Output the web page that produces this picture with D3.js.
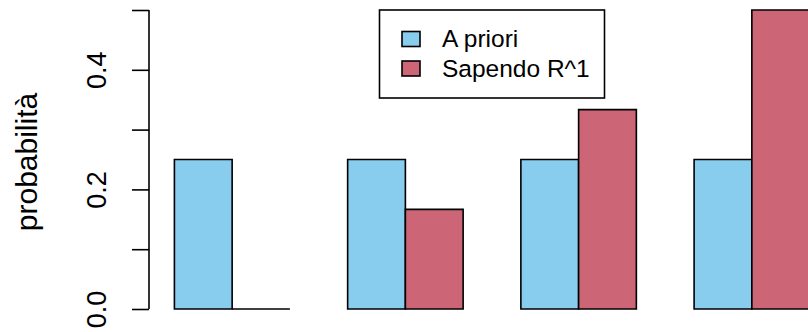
<!DOCTYPE html>
<html><head><meta charset="utf-8">
<script src="https://cdn.jsdelivr.net/npm/d3@7"></script>
<style>html,body{margin:0;padding:0;background:#fff;overflow:hidden}</style>
</head><body>
<svg id="chart" width="808" height="332"></svg>
<script>
const categories = ["1", "2", "3", "4"];
const seriesNames = ["A priori", "Sapendo R^1"];
const aPriori = [0.25, 0.25, 0.25, 0.25];
const sapendo = [0, 1/6, 1/3, 0.5];
const yTicks = [0, 0.1, 0.2, 0.3, 0.4, 0.5];
const yTickLabels = ["0.0", "", "0.2", "", "0.4", ""];
const colors = ["#88CCEE", "#CC6677"];
const yLabel = "probabilità";

const svg = d3.select("#chart");
const font = "Liberation Sans, Arial, Helvetica, sans-serif";

// barplot layout like R: each bar width 1, space before group 1
const series = [aPriori, sapendo];
const nGroups = categories.length, nSeries = series.length;
const xMin = 1, xMax = 1 + nGroups * (nSeries + 1) - 1;
const ext = (xMax - xMin) * 0.04;
const x = d3.scaleLinear().domain([xMin - ext, xMax + ext]).range([149, 835]);
const y = d3.scaleLinear().domain([0, 0.5]).range([309, 10]);

const bars = [];
categories.forEach((c, i) => {
  series.forEach((s, j) => {
    const left = 1 + i * (nSeries + 1) + j;
    bars.push({left, right: left + 1, v: s[i], j});
  });
});
svg.append("g").selectAll("path").data(bars).join("path")
  .attr("d", d => {
    const x0 = x(d.left), x1 = x(d.right), y0 = y(0), y1 = y(d.v);
    return `M${x0},${y0}L${x0},${y1}L${x1},${y1}L${x1},${y0}Z`;
  })
  .attr("fill", d => colors[d.j])
  .attr("stroke", "#000")
  .attr("stroke-width", 1.6);

// y axis
const yAxis = d3.axisLeft(y).tickValues(yTicks).tickFormat((d, i) => yTickLabels[i])
  .tickSize(17).tickSizeOuter(0).tickPadding(0);
const ga = svg.append("g").attr("transform", "translate(149,0)").call(yAxis);
ga.select(".domain").attr("stroke", "#000").attr("stroke-width", 1.6)
  .attr("d", `M0,${y(0)}V${y(0.5)}`);
ga.selectAll(".tick line").attr("stroke", "#000").attr("stroke-width", 1.6);
ga.selectAll(".tick text")
  .attr("font-family", font).attr("font-size", 27).attr("fill", "#000")
  .attr("text-anchor", "middle").attr("dy", null).attr("x", null)
  .attr("transform", "translate(-43,0) rotate(-90)");

svg.append("text")
  .attr("transform", `translate(37,162) rotate(-90)`)
  .attr("text-anchor", "middle")
  .attr("font-family", font).attr("font-size", 30).attr("fill", "#000")
  .text(yLabel);

// legend
const lg = svg.append("g");
lg.append("rect").attr("x", 379.5).attr("y", 10).attr("width", 225).attr("height", 88)
  .attr("fill", "#fff").attr("stroke", "#000").attr("stroke-width", 1.6);
seriesNames.forEach((n, i) => {
  const cy = 39 + i * 29.5;
  lg.append("rect").attr("x", 402).attr("y", cy - 7.5).attr("width", 18).attr("height", 15)
    .attr("fill", colors[i]).attr("stroke", "#000").attr("stroke-width", 1.6);
  lg.append("text").attr("x", 442).attr("y", cy + 8)
    .attr("font-family", font).attr("font-size", 24.5).attr("fill", "#000").text(n);
});
</script>
</body></html>
